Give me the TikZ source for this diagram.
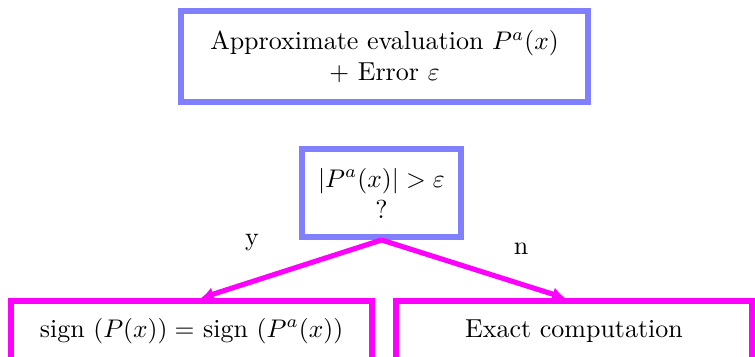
\documentclass[tikz,border=0pt]{standalone}
\usetikzlibrary{arrows.meta}
\definecolor{mag}{RGB}{255,0,255}
\definecolor{lblue}{RGB}{128,128,255}
\begin{document}
\begin{tikzpicture}[x=0.3922pt,y=-0.3922pt,
  font=\fontsize{10.2}{12.2}\selectfont,
  bluebox/.style={draw=lblue,line width=2.35pt,fill=white,align=center,inner sep=0pt},
  magbox/.style={draw=mag,line width=2.35pt,fill=white,align=center,inner sep=0pt,
    text height=14.1pt,text depth=11pt,anchor=base},
  flow/.style={draw=mag,line width=2pt,-{Latex[length=5pt,width=5.5pt]}},
  lbl/.style={inner sep=0pt}]
\useasboundingbox (0,0) rectangle (755,356);
\node[bluebox,minimum width=159.6pt,minimum height=35.7pt] (top) at (384.5,56.5)
  {Approximate evaluation $P^a(x)$\\ $+$ Error $\varepsilon$};
\node[bluebox,minimum width=62.4pt,minimum height=34.5pt] (mid) at (381.5,193)
  {$|P^a(x)|>\varepsilon$\\ ?};
\node[magbox,minimum width=141.6pt] (bl) at (191.5,337)
  {sign $(P(x))=$ sign $(P^a(x))$};
\node[magbox,minimum width=139.6pt] (br) at (574,337)
  {Exact computation};
\draw[flow] (mid.south) -- ([xshift=3.7pt]bl.north);
\draw[flow] (mid.south) -- ([xshift=-3.5pt]br.north);
\node[lbl] (ly) at (252,243) {y};
\node[lbl] (ln) at (521,249) {n};
\end{tikzpicture}
\end{document}
